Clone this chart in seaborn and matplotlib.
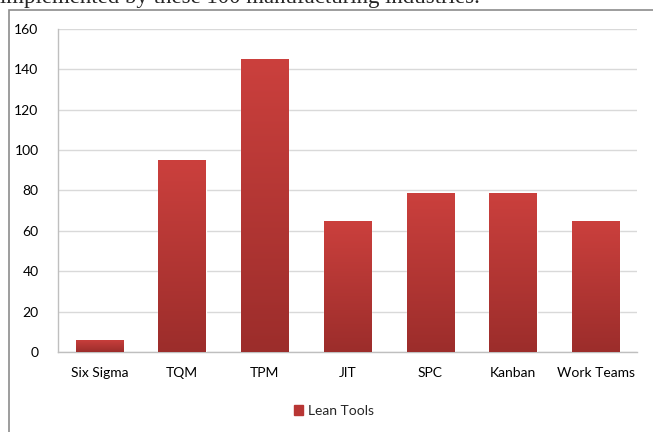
import numpy as np
import pandas as pd
import seaborn as sns
import matplotlib.pyplot as plt
from matplotlib.colors import LinearSegmentedColormap
from matplotlib.patches import Rectangle, Patch

tools = ["Six Sigma", "TQM", "TPM", "JIT", "SPC", "Kanban", "Work Teams"]
counts = [6, 95, 145, 65, 79, 79, 65]
series_name = "Lean Tools"

df = pd.DataFrame({"tool": tools, "count": counts})

sns.set_style("white")
plt.rcParams['font.family'] = ['Lato', 'DejaVu Sans']

fig = plt.figure(figsize=(6.53, 4.32), dpi=100)
ax = fig.add_axes([58 / 653, 1 - 352 / 432, (637 - 58) / 653, (352 - 29) / 432])

sns.barplot(data=df, x="tool", y="count", color="#B83634", width=0.57, ax=ax,
            saturation=1, zorder=3)

# gradient fill for bars: lighter at the top, darker at the bottom
cmap = LinearSegmentedColormap.from_list("bar", ["#9C2D2B", "#CB403D"])
grad = np.linspace(0, 1, 256).reshape(-1, 1)
for p in ax.patches:
    x0, y0 = p.get_x(), p.get_y()
    w, h = p.get_width(), p.get_height()
    im = ax.imshow(grad, cmap=cmap, origin="lower", aspect="auto",
                   extent=[x0, x0 + w, y0, y0 + h], zorder=4)
    im.set_clip_path(p)

ax.set_xlim(-0.5, len(tools) - 0.5)
ax.set_ylim(0, 160)
ax.set_yticks(range(0, 161, 20))
ax.yaxis.grid(True, color="#D9D9D9", linewidth=1)
ax.set_axisbelow(True)
ax.set_xlabel("")
ax.set_ylabel("")
for s in ["top", "right"]:
    ax.spines[s].set_visible(False)
for s in ["left", "bottom"]:
    ax.spines[s].set_color("#BFBFBF")
    ax.spines[s].set_linewidth(1)
ax.tick_params(axis="both", length=0, labelsize=10, colors="#000000")
ax.tick_params(axis="y", pad=14)
ax.tick_params(axis="x", pad=11)

ax.legend(handles=[Patch(color="#B83634", label=series_name)], loc="center",
          bbox_to_anchor=(334 / 653, 1 - 411 / 432), bbox_transform=fig.transFigure,
          frameon=False, fontsize=10, handlelength=0.65, handleheight=0.65,
          handletextpad=0.3)

# outer chart border and caption text clipped at the top
fig.patches.append(Rectangle((9 / 653, -0.1), 1.2, 1 - 10 / 432 + 0.1,
                             transform=fig.transFigure, fill=False,
                             edgecolor="#8C8C8C", linewidth=1.2))
fig.text(0, 1 - 3 / 432, "implemented by these 100 manufacturing industries.",
         family=["Liberation Serif", "DejaVu Serif"], fontsize=16.5,
         ha="left", va="baseline")

fig.savefig("out.png", dpi=100)
